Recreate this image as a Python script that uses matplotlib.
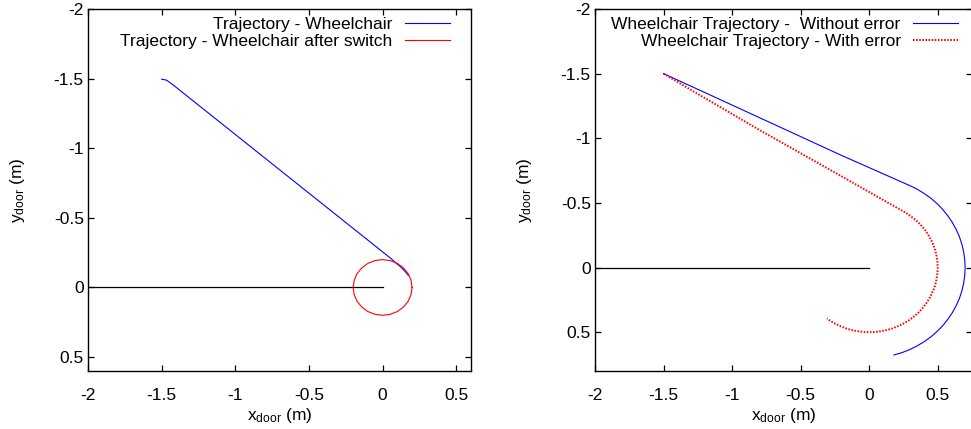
import matplotlib
matplotlib.use("Agg")
import matplotlib.pyplot as plt

plt.rcParams['font.family'] = ['Liberation Sans', 'DejaVu Sans']
plt.rcParams['mathtext.fontset'] = 'custom'
plt.rcParams['mathtext.rm'] = 'Liberation Sans'
plt.rcParams['mathtext.it'] = 'Liberation Sans'
FS = 12.5
plt.rcParams['font.size'] = FS

# ---------------- data: left panel ----------------
door_x = [-2.0, 0.0]
door_y = [0.0, 0.0]

left_blue_x = [-1.50, -1.467, -1.42, 0.06, 0.091, 0.12, 0.15, 0.175]
left_blue_y = [-1.496, -1.489, -1.453, -0.205, -0.175, -0.150, -0.118, -0.086]

left_red_x = [0.200, 0.193, 0.173, 0.141, 0.100, 0.052, 0.000, -0.052, -0.100, -0.141,
              -0.173, -0.193, -0.200, -0.193, -0.173, -0.141, -0.100, -0.052, 0.000,
              0.052, 0.100, 0.141, 0.173, 0.193, 0.200]
left_red_y = [0.000, 0.052, 0.100, 0.141, 0.173, 0.193, 0.200, 0.193, 0.173, 0.141,
              0.100, 0.052, 0.000, -0.052, -0.100, -0.141, -0.173, -0.193, -0.200,
              -0.193, -0.173, -0.141, -0.100, -0.052, 0.000]

# ---------------- data: right panel ----------------
right_blue_x = [-1.50, -1.234, -0.797, -0.213, 0.307, 0.350, 0.401,
                0.450, 0.495, 0.536, 0.573, 0.606, 0.634, 0.658, 0.676, 0.689, 0.697,
                0.700, 0.697, 0.689, 0.676, 0.658, 0.634, 0.606, 0.573, 0.536, 0.495,
                0.450, 0.401, 0.350, 0.296, 0.239, 0.181]
right_blue_y = [-1.50, -1.371, -1.158, -0.873, -0.629, -0.606,
                -0.573, -0.536, -0.495, -0.450, -0.401, -0.350, -0.296, -0.239, -0.181,
                -0.122, -0.061, 0.000, 0.061, 0.122, 0.181, 0.239, 0.296, 0.350, 0.401,
                0.450, 0.495, 0.536, 0.573, 0.606, 0.634, 0.658, 0.676]

right_red_x = [-1.50, -1.234, -0.797, -0.213, 0.258, 0.287, 0.321, 0.354, 0.383,
               0.410, 0.433, 0.453, 0.470, 0.483, 0.492, 0.498, 0.500, 0.498, 0.492,
               0.483, 0.470, 0.453, 0.433, 0.410, 0.383, 0.354, 0.321, 0.287, 0.250,
               0.211, 0.171, 0.129, 0.087, 0.044, 0.000, -0.044, -0.087, -0.129,
               -0.171, -0.211, -0.250, -0.287, -0.308]
right_red_y = [-1.50, -1.333, -1.062, -0.713, -0.429, -0.410, -0.383, -0.354,
               -0.321, -0.287, -0.250, -0.211, -0.171, -0.129, -0.087, -0.044, 0.000,
               0.044, 0.087, 0.129, 0.171, 0.211, 0.250, 0.287, 0.321, 0.354, 0.383,
               0.410, 0.433, 0.453, 0.470, 0.483, 0.492, 0.498, 0.500, 0.498, 0.492,
               0.483, 0.470, 0.453, 0.433, 0.410, 0.394]

x_ticks = [-2, -1.5, -1, -0.5, 0, 0.5]
x_tick_labels = ['-2', '-1.5', '-1', '-0.5', '0', '0.5']
y_ticks_left = [-2, -1.5, -1, -0.5, 0, 0.5]
y_tick_labels_left = ['-2', '-1.5', '-1', '-0.5', '0', '0.5']
y_ticks_right = [-2, -1.5, -1, -0.5, 0, 0.5]
y_tick_labels_right = ['-2', '-1.5', '-1', '-0.5', '0', '0.5']

legend_left = ['Trajectory - Wheelchair', 'Trajectory - Wheelchair after switch']
legend_right = ['Wheelchair Trajectory -  Without error', 'Wheelchair Trajectory - With error']

xlabel = r'x$_\mathregular{door}$ (m)'
ylabel = r'y$_\mathregular{door}$ (m)'

W, H = 971, 429
fig = plt.figure(figsize=(W / 100, H / 100), dpi=100)

ax1 = fig.add_axes([88 / W, 1 - 371 / H, 383 / W, 362 / H])
ax2 = fig.add_axes([595 / W, 1 - 371 / H, 377 / W, 362 / H])


def style(ax, yticks, ylabels):
    ax.set_xticks(x_ticks)
    ax.set_xticklabels(x_tick_labels)
    ax.set_yticks(yticks)
    ax.set_yticklabels(ylabels)
    ax.tick_params(direction='in', top=True, right=True, length=4, width=0.9,
                   labelsize=FS, colors='black')
    ax.tick_params(axis='x', pad=12.5)
    ax.tick_params(axis='y', pad=3)
    for s in ax.spines.values():
        s.set_linewidth(1.0)
        s.set_color('black')
    ax.set_xlabel(xlabel, fontsize=FS, labelpad=2)
    ax.set_ylabel(ylabel, fontsize=FS, labelpad=19.5)


leg_kw = dict(loc='upper right', frameon=False, markerfirst=False, handlelength=2.6,
              handletextpad=0.7, borderpad=0, borderaxespad=0, labelspacing=0.12,
              fontsize=FS)

# left panel
ax1.plot(door_x, door_y, color='black', lw=0.9)
ax1.plot(left_blue_x, left_blue_y, color='#0000ff', lw=0.8, label=legend_left[0])
ax1.plot(left_red_x, left_red_y, color='#ff0000', lw=0.8, label=legend_left[1])
ax1.set_xlim(-2, 0.6)
ax1.set_ylim(0.6, -2)
style(ax1, y_ticks_left, y_tick_labels_left)
ax1.legend(bbox_to_anchor=((450 - 88) / 383, 1 - (17 - 9) / 362), **leg_kw)

# right panel
ax2.plot(door_x, door_y, color='black', lw=0.9)
ax2.plot(right_blue_x, right_blue_y, color='#0000ff', lw=0.8, label=legend_right[0])
ax2.plot(right_red_x, right_red_y, color='#ff0000', lw=1.4, dashes=(0.8, 0.8),
         label=legend_right[1])
ax2.set_xlim(-2, 0.75)
ax2.set_ylim(0.8, -2)
style(ax2, y_ticks_right, y_tick_labels_right)
ax2.legend(bbox_to_anchor=((958 - 595) / 377, 1 - (17 - 9) / 362), **leg_kw)

fig.savefig('out.png', dpi=100)
